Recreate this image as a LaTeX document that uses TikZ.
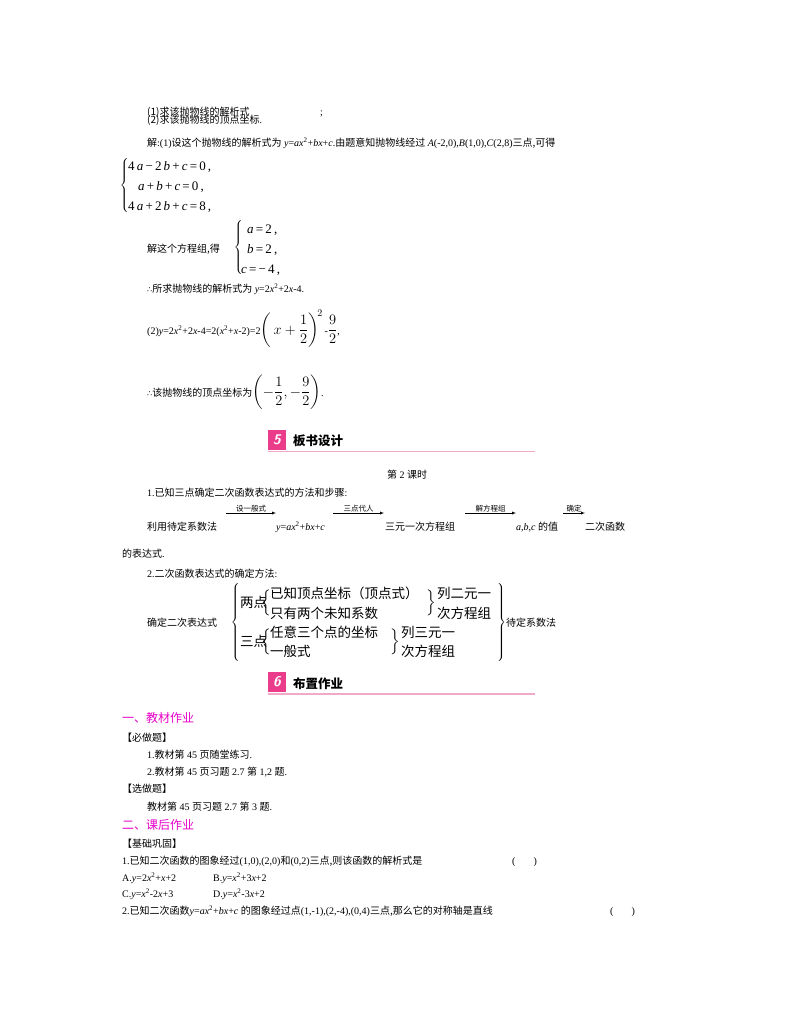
\documentclass[tikz,border=0pt]{standalone}
\usepackage{fontspec}
\usepackage{amsmath}
\setmainfont{Liberation Serif}
\newfontfamily\cjk{Noto Sans CJK SC}
\newfontfamily\dvs{DejaVu Sans}
\newcommand\zh[1]{{\cjk #1}}
\newcommand\vi[1]{\textit{#1}}
\newcommand\thf{{\dvs\fontsize{8}{10}\selectfont ∴}}
\newcommand\lbr[1]{$\left\{\vcenter{\hrule height #1 width 0pt}\right.$}
\newcommand\rbr[1]{$\left.\vcenter{\hrule height #1 width 0pt}\right\}$}
\newcommand\mybigmath[1]{{\fontsize{14}{16}\selectfont$\displaystyle #1$}}
\definecolor{mag}{RGB}{230,0,200}
\definecolor{pinkbox}{RGB}{235,60,140}
\definecolor{pinkline}{RGB}{240,170,200}
\begin{document}
\begin{tikzpicture}[x=1pt,y=-1pt,
  t/.style={anchor=base west,inner sep=0,font=\fontsize{10}{12}\selectfont},
  big/.style={anchor=base west,inner sep=0,font=\fontsize{13}{15}\selectfont},
  sec/.style={anchor=base west,inner sep=0,font=\fontsize{12.5}{14}\selectfont\cjk\bfseries},
  br/.style={anchor=center,inner sep=0},
  arr/.style={-latex,thin},
  lab/.style={anchor=south,inner sep=1pt,font=\fontsize{7.5}{9}\selectfont\cjk}]
\useasboundingbox (0,0) rectangle (800,1028);
\node[t] (q1) at (147,115) {\zh{(1)求该抛物线的解析式}};
\node[t] (q1s) at (320,115) {;};
\node[t] (q2) at (147,123) {\zh{(2)求该抛物线的顶点坐标}.};
\node[t] (s1) at (147,146) {\zh{解}:(1)\zh{设这个抛物线的解析式为} \vi{y}=\vi{ax}\textsuperscript{2}+\vi{bx}+\vi{c}.\zh{由题意知抛物线经过} \vi{A}(-2,0),\vi{B}(1,0),\vi{C}(2,8)\zh{三点,可得}};
\node[br] (sys1) at (125,185) {\lbr{54pt}};
\node[big] (e1) at (128,170) {4\,\vi{a}\,−\,2\,\vi{b}\,+\,\vi{c}\,=\,0\,,};
\node[big] (e2) at (138,190) {\vi{a}\,+\,\vi{b}\,+\,\vi{c}\,=\,0\,,};
\node[big] (e3) at (128,210) {4\,\vi{a}\,+\,2\,\vi{b}\,+\,\vi{c}\,=\,8\,,};
\node[t] (s2) at (147,252) {\zh{解这个方程组,得}};
\node[br] (sys2) at (239,247) {\lbr{54pt}};
\node[big] (f1) at (247,233) {\vi{a}\,=\,2\,,};
\node[big] (f2) at (247,253) {\vi{b}\,=\,2\,,};
\node[big] (f3) at (241,273) {\vi{c}\,=\,−\,4\,,};
\node[t] (s3) at (147,292) {\thf\zh{所求抛物线的解析式为} \vi{y}=2\vi{x}\textsuperscript{2}+2\vi{x}-4.};
\node[t] (s4) at (147,334) {(2)\vi{y}=2\vi{x}\textsuperscript{2}+2\vi{x}-4=2(\vi{x}\textsuperscript{2}+\vi{x}-2)=2\mybigmath{\left(\,x+\frac{1}{2}\right)^{\!2}}\,-\mybigmath{\frac{9}{2}},};
\node[t] (s5) at (147,396) {\thf\zh{该抛物线的顶点坐标为}\mybigmath{\left(-\frac{1}{2},-\frac{9}{2}\right)}.};
% section 5
\fill[pinkbox] (268,430) rectangle (286,450);
\node[inner sep=0,text=white,font=\fontsize{14}{14}\selectfont\sffamily\bfseries\itshape] (n5) at (277,440) {5};
\node[sec] (h5) at (293,445) {板书设计};
\draw[pinkline,line width=1.2pt] (268,451.5) -- (535,451.5);
\node[t] (k2) at (387,478) {\zh{第} 2 \zh{课时}};
\node[t] (p1) at (147,496) {1.\zh{已知三点确定二次函数表达式的方法和步骤}:};
\node[t] (r1) at (147,530) {\zh{利用待定系数法}};
\node[t] (r2) at (276,530) {\vi{y}=\vi{ax}\textsuperscript{2}+\vi{bx}+\vi{c}};
\node[t] (r3) at (385,530) {\zh{三元一次方程组}};
\node[t] (r4) at (516,530) {\vi{a},\vi{b},\vi{c} \zh{的值}};
\node[t] (r5) at (585,530) {\zh{二次函数}};
\coordinate (a1s) at (226,513); \coordinate (a1e) at (276,513);
\coordinate (a2s) at (333,513); \coordinate (a2e) at (384,513);
\coordinate (a3s) at (465,513); \coordinate (a3e) at (516,513);
\coordinate (a4s) at (563,513); \coordinate (a4e) at (585,513);
\draw[arr] (a1s) -- node[lab] {设一般式} (a1e);
\draw[arr] (a2s) -- node[lab] {三点代人} (a2e);
\draw[arr] (a3s) -- node[lab] {解方程组} (a3e);
\draw[arr] (a4s) -- node[lab] {确定} (a4e);
\node[t] (r6) at (122,557) {\zh{的表达式}.};
\node[t] (p2) at (147,577) {2.\zh{二次函数表达式的确定方法}:};
\node[t] (m0) at (147,626) {\zh{确定二次表达式}};
\node[br] (bb1) at (236,622) {\lbr{78pt}};
\begin{scope}[every node/.style={anchor=base west,inner sep=0,font=\fontsize{13.5}{15}\selectfont\cjk}]
\node (m1) at (240,607) {两点};
\node[br] (sb1) at (267,603) {\lbr{24pt}};
\node (m2) at (270,598) {已知顶点坐标（顶点式）};
\node (m3) at (270,618) {只有两个未知系数};
\node[br] (rb1) at (431,603) {\rbr{24pt}};
\node (m4) at (437,598) {列二元一};
\node (m5) at (437,618) {次方程组};
\node (m6) at (240,646) {三点};
\node[br] (sb2) at (267,642) {\lbr{24pt}};
\node (m7) at (270,637) {任意三个点的坐标};
\node (m8) at (270,656) {一般式};
\node[br] (rb2) at (395,642) {\rbr{24pt}};
\node (m9) at (401,637) {列三元一};
\node (m10) at (401,656) {次方程组};
\end{scope}
\node[br] (bb2) at (501,622) {\rbr{78pt}};
\node[t] (m11) at (506,626) {\zh{待定系数法}};
% section 6
\fill[pinkbox] (268,672) rectangle (286,692);
\node[inner sep=0,text=white,font=\fontsize{14}{14}\selectfont\sffamily\bfseries\itshape] (n6) at (277,682) {6};
\node[sec] (h6) at (293,688) {布置作业};
\draw[pinkline,line width=1.2pt] (268,694) -- (535,694);
\node[t,text=mag,font=\fontsize{12}{14}\selectfont\cjk] (g1) at (122,722) {一、教材作业};
\node[t] (g2) at (122,741) {\zh{【必做题】}};
\node[t] (g3) at (147,758) {1.\zh{教材第} 45 \zh{页随堂练习}.};
\node[t] (g4) at (147,775) {2.\zh{教材第} 45 \zh{页习题} 2.7 \zh{第} 1,2 \zh{题}.};
\node[t] (g5) at (122,792) {\zh{【选做题】}};
\node[t] (g6) at (147,810) {\zh{教材第} 45 \zh{页习题} 2.7 \zh{第} 3 \zh{题}.};
\node[t,text=mag,font=\fontsize{12}{14}\selectfont\cjk] (g7) at (122,829) {二、课后作业};
\node[t] (g8) at (122,847) {\zh{【基础巩固】}};
\node[t] (g9) at (122,864) {1.\zh{已知二次函数的图象经过}(1,0),(2,0)\zh{和}(0,2)\zh{三点,则该函数的解析式是}};
\node[t] (g9b) at (512,864) {(\hspace{18pt})};
\node[t] (oA) at (122,881) {A.\vi{y}=2\vi{x}\textsuperscript{2}+\vi{x}+2};
\node[t] (oB) at (213,881) {B.\vi{y}=\vi{x}\textsuperscript{2}+3\vi{x}+2};
\node[t] (oC) at (122,897) {C.\vi{y}=\vi{x}\textsuperscript{2}-2\vi{x}+3};
\node[t] (oD) at (213,897) {D.\vi{y}=\vi{x}\textsuperscript{2}-3\vi{x}+2};
\node[t] (g10) at (122,914) {2.\zh{已知二次函数}\vi{y}=\vi{ax}\textsuperscript{2}+\vi{bx}+\vi{c} \zh{的图象经过点}(1,-1),(2,-4),(0,4)\zh{三点,那么它的对称轴是直线}};
\node[t] (g10b) at (610,914) {(\hspace{18pt})};
\end{tikzpicture}
\end{document}
